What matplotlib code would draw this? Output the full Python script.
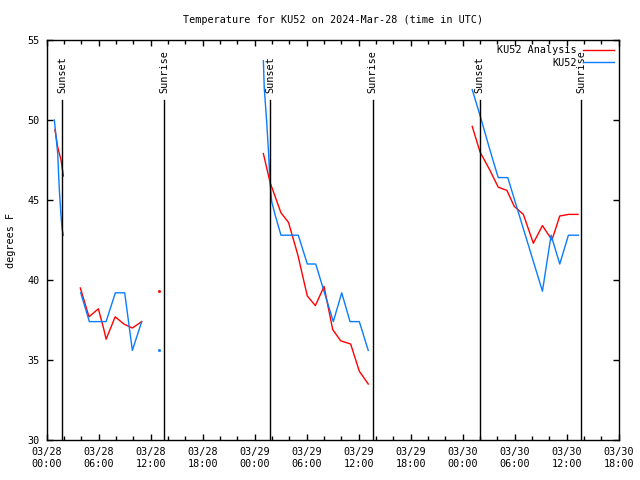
import numpy as np
import matplotlib
matplotlib.use("Agg")
import matplotlib.pyplot as plt

nan = np.nan

# hours since 2024-03-28 00:00 UTC
obs_hours = [0.88, 1.07, 1.27, 1.38, 1.46, 1.65, 1.77, 1.92, nan,
             3.92, 4.92, 5.92, 6.85, 7.92, 9.0, 9.88, 10.96, nan,
             25.0, 25.1, 25.38, 25.57, 25.77, 25.96, 26.34, 27.03, 28.03, 29.03,
             30.07, 31.04, 32.05, 33.07, 34.04, 35.0, 36.07, 37.1, nan,
             49.1, 50.1, 51.1, 52.1, 53.2, 57.2, 58.2, 59.2, 60.2, 61.35]
obs_temp = [50.0, 49.0, 47.9, 46.5, 45.6, 44.0, 43.2, 42.8, nan,
            39.2, 37.4, 37.4, 37.4, 39.2, 39.2, 35.6, 37.4, nan,
            53.7, 52.0, 49.9, 48.2, 46.1, 44.9, 44.1, 42.8, 42.8, 42.8,
            41.0, 41.0, 39.2, 37.4, 39.2, 37.4, 37.4, 35.6, nan,
            51.9, 50.1, 48.2, 46.4, 46.4, 39.3, 42.8, 41.0, 42.8, 42.8]

ana_hours = [0.95, 1.27, 1.65, 1.92, nan,
             3.88, 4.88, 5.96, 6.6, 6.85, 7.9, 8.9, 9.88, 10.96, nan,
             25.0, 25.77, 27.03, 27.9, 28.96, 30.07, 31.0, 32.0, 33.0, 33.92,
             35.07, 36.07, 37.1, nan,
             49.1, 50.0, 51.1, 52.1, 53.1, 53.95, 55.0, 56.15, 57.2, 58.3,
             59.2, 60.2, 61.3]
ana_temp = [49.4, 48.3, 47.5, 46.5, nan,
            39.5, 37.7, 38.2, 36.9, 36.3, 37.7, 37.25, 37.0, 37.4, nan,
            47.9, 46.1, 44.2, 43.6, 41.6, 39.0, 38.4, 39.6, 36.9, 36.2,
            36.0, 34.3, 33.5, nan,
            49.6, 48.0, 46.9, 45.8, 45.6, 44.6, 44.1, 42.3, 43.4, 42.5,
            44.0, 44.1, 44.1]

# lone points
lone_hour = 13.0
lone_obs = 35.6
lone_ana = 39.3

sunset = [1.75, 25.8, 49.95]
sunrise = [13.55, 37.6, 61.65]

tick_hours = [0, 6, 12, 18, 24, 30, 36, 42, 48, 54, 60, 66]
tick_labels = ["03/28\n00:00", "03/28\n06:00", "03/28\n12:00", "03/28\n18:00",
               "03/29\n00:00", "03/29\n06:00", "03/29\n12:00", "03/29\n18:00",
               "03/30\n00:00", "03/30\n06:00", "03/30\n12:00", "03/30\n18:00"]

red = "#ff0000"
blue = "#0a7cff"
font = "DejaVu Sans Mono"
fs = 7.3

fig = plt.figure(figsize=(6.4, 4.8), dpi=100)
ax = fig.add_axes([0.073, 0.0833, 0.8937, 0.8334])

ax.plot(ana_hours, ana_temp, color=red, lw=1, label="KU52 Analysis")
ax.plot(obs_hours, obs_temp, color=blue, lw=1, label="KU52")
ax.plot([lone_hour], [lone_ana], marker="s", ms=1.0, color=red, ls="none")
ax.plot([lone_hour], [lone_obs], marker="s", ms=1.0, color=blue, ls="none")

for h in sunset:
    ax.plot([h, h], [30, 51.25], color="black", lw=1)
    ax.text(h, 51.7, "Sunset", rotation=90, ha="center", va="bottom",
            family=font, fontsize=fs)
for h in sunrise:
    ax.plot([h, h], [30, 51.25], color="black", lw=1)
    ax.text(h, 51.7, "Sunrise", rotation=90, ha="center", va="bottom",
            family=font, fontsize=fs)

ax.set_xlim(0, 66)
ax.set_ylim(30, 55)
ax.set_xticks(tick_hours)
ax.set_xticklabels(tick_labels, family=font, fontsize=fs)
ax.set_xticks(np.arange(0, 67, 2), minor=True)
ax.set_yticks([30, 35, 40, 45, 50, 55])
ax.set_yticklabels(["30", "35", "40", "45", "50", "55"], family=font, fontsize=fs)
ax.tick_params(direction="in", top=True, right=True, length=4, width=1, pad=5)
ax.tick_params(which="minor", direction="in", top=True, length=3, width=1)
for s in ax.spines.values():
    s.set_linewidth(1)

ax.set_title("Temperature for KU52 on 2024-Mar-28 (time in UTC)",
             family=font, fontsize=fs, pad=12)
ax.set_ylabel("degrees F", family=font, fontsize=fs)
ax.yaxis.set_label_coords(-0.054, 0.5)

leg = ax.legend(loc="upper right", markerfirst=False, frameon=False,
                prop={"family": font, "size": fs}, handlelength=3.0,
                labelspacing=0.25, borderaxespad=0.1, handletextpad=0.6)

fig.savefig("out.png", dpi=100)
